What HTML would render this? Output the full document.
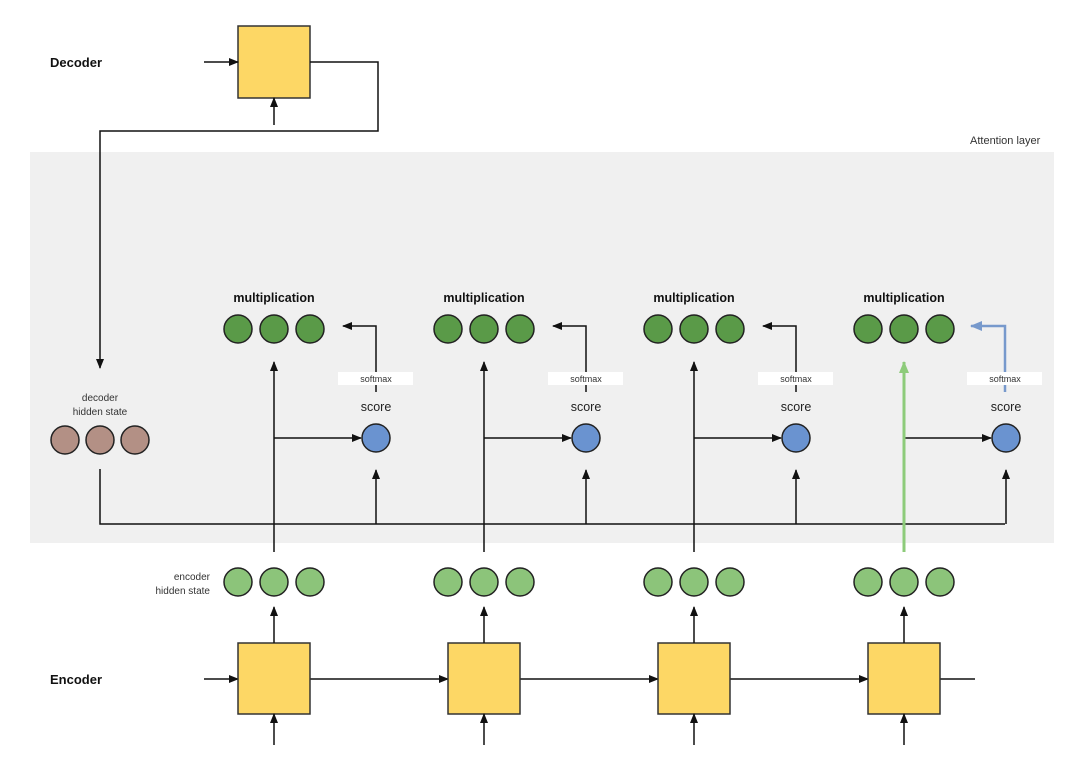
<!DOCTYPE html>
<html><head><meta charset="utf-8"><style>
html,body{margin:0;padding:0;background:#fff;}
svg{display:block;font-family:"Liberation Sans",sans-serif;}
</style></head><body>
<svg width="1080" height="779" viewBox="0 0 1080 779" xmlns="http://www.w3.org/2000/svg">
<defs>
<marker id="a" markerWidth="10" markerHeight="8" refX="9" refY="4" orient="auto" markerUnits="userSpaceOnUse"><path d="M0,0 L10,4 L0,8 z" fill="#111"/></marker>
<marker id="g" markerWidth="12" markerHeight="10" refX="11" refY="5" orient="auto" markerUnits="userSpaceOnUse"><path d="M0,0 L12,5 L0,10 z" fill="#8dcb7a"/></marker>
<marker id="b" markerWidth="12" markerHeight="10" refX="11" refY="5" orient="auto" markerUnits="userSpaceOnUse"><path d="M0,0 L12,5 L0,10 z" fill="#7799cc"/></marker>
</defs>
<rect x="30" y="152" width="1024" height="391" fill="#f0f0f0"/>
<text x="970" y="144" font-size="11" fill="#333">Attention layer</text>
<text x="50" y="67" font-size="13" font-weight="bold" fill="#111">Decoder</text>
<text x="50" y="684" font-size="13" font-weight="bold" fill="#111">Encoder</text>

<g stroke="#111" stroke-width="1.5" fill="none">
<rect x="238" y="26" width="72" height="72" fill="#fdd765" stroke="#333"/>
<line x1="204" y1="62" x2="238" y2="62" marker-end="url(#a)"/>
<line x1="274" y1="125" x2="274" y2="98" marker-end="url(#a)"/>
<polyline points="310,62 378,62 378,131 100,131 100,368" marker-end="url(#a)"/>
<polyline points="100,469 100,524 1005,524"/>
</g>

<text x="100" y="401" font-size="10" text-anchor="middle" fill="#333">decoder</text>
<text x="100" y="415" font-size="10" text-anchor="middle" fill="#333">hidden state</text>
<g fill="#b39085" stroke="#222" stroke-width="1.5">
<circle cx="65" cy="440" r="14"/><circle cx="100" cy="440" r="14"/><circle cx="135" cy="440" r="14"/>
</g>
<text x="210" y="580" font-size="10" text-anchor="end" fill="#333">encoder</text>
<text x="210" y="594" font-size="10" text-anchor="end" fill="#333">hidden state</text>

<g stroke="#111" stroke-width="1.5">
<line x1="204" y1="679" x2="238" y2="679" marker-end="url(#a)"/>
<line x1="310" y1="679" x2="448" y2="679" marker-end="url(#a)"/>
<line x1="520" y1="679" x2="658" y2="679" marker-end="url(#a)"/>
<line x1="730" y1="679" x2="868" y2="679" marker-end="url(#a)"/>
<line x1="940" y1="679" x2="975" y2="679"/>
</g>

<g id="grp">
<text x="274" y="302" font-size="12.5" font-weight="bold" text-anchor="middle" fill="#111">multiplication</text>
<g fill="#5a9a48" stroke="#222" stroke-width="1.5">
<circle cx="238" cy="329" r="14"/><circle cx="274" cy="329" r="14"/><circle cx="310" cy="329" r="14"/>
</g>
<g fill="#8cc47a" stroke="#222" stroke-width="1.5">
<circle cx="238" cy="582" r="14"/><circle cx="274" cy="582" r="14"/><circle cx="310" cy="582" r="14"/>
</g>
<rect x="238" y="643" width="72" height="71" fill="#fdd765" stroke="#333" stroke-width="1.5"/>
<g stroke="#111" stroke-width="1.5" fill="none">
<line x1="274" y1="643" x2="274" y2="607" marker-end="url(#a)"/>
<line x1="274" y1="745" x2="274" y2="714" marker-end="url(#a)"/>
<line x1="274" y1="438" x2="361" y2="438" marker-end="url(#a)"/>
<line x1="376" y1="524" x2="376" y2="470" marker-end="url(#a)"/>
</g>
<circle cx="376" cy="438" r="14" fill="#6a93d0" stroke="#222" stroke-width="1.5"/>
<text x="376" y="411" font-size="12.5" text-anchor="middle" fill="#222">score</text>
</g>
<use href="#grp" x="210"/>
<use href="#grp" x="420"/>
<use href="#grp" x="630"/>

<g stroke="#111" stroke-width="1.5" fill="none">
<line x1="274" y1="552" x2="274" y2="362" marker-end="url(#a)"/>
<line x1="484" y1="552" x2="484" y2="362" marker-end="url(#a)"/>
<line x1="694" y1="552" x2="694" y2="362" marker-end="url(#a)"/>
<polyline points="376,392 376,326 343,326" marker-end="url(#a)"/>
<polyline points="586,392 586,326 553,326" marker-end="url(#a)"/>
<polyline points="796,392 796,326 763,326" marker-end="url(#a)"/>
</g>
<line x1="904" y1="552" x2="904" y2="362" stroke="#8dcb7a" stroke-width="3" marker-end="url(#g)"/>
<polyline points="1005,392 1005,326 971,326" stroke="#7799cc" stroke-width="2.5" fill="none" marker-end="url(#b)"/>

<g font-size="9" text-anchor="middle" fill="#333">
<rect x="338" y="372" width="75" height="13" fill="#fff"/><text x="376" y="382">softmax</text>
<rect x="548" y="372" width="75" height="13" fill="#fff"/><text x="586" y="382">softmax</text>
<rect x="758" y="372" width="75" height="13" fill="#fff"/><text x="796" y="382">softmax</text>
<rect x="967" y="372" width="75" height="13" fill="#fff"/><text x="1005" y="382">softmax</text>
</g>
</svg>
</body></html>
